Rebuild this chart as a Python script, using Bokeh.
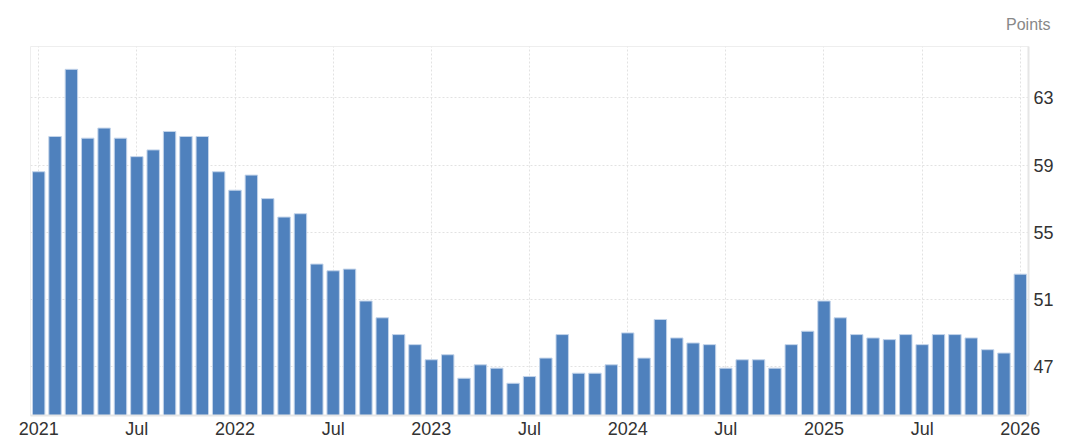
from bokeh.plotting import figure
from bokeh.models import FixedTicker, Range1d, Title, ColumnDataSource
from bokeh.embed import file_html
from bokeh.resources import INLINE

# Monthly values, Jan 2021 .. Jan 2026
months = list(range(61))
values = [
    58.6, 60.7, 64.7, 60.6, 61.2, 60.6, 59.5, 59.9, 61.0, 60.7, 60.7, 58.6,   # 2021
    57.5, 58.4, 57.0, 55.9, 56.1, 53.1, 52.7, 52.8, 50.9, 49.9, 48.9, 48.3,   # 2022
    47.4, 47.7, 46.3, 47.1, 46.9, 46.0, 46.4, 47.5, 48.9, 46.6, 46.6, 47.1,   # 2023
    49.0, 47.5, 49.8, 48.7, 48.4, 48.3, 46.9, 47.4, 47.4, 46.9, 48.3, 49.1,   # 2024
    50.9, 49.9, 48.9, 48.7, 48.6, 48.9, 48.3, 48.9, 48.9, 48.7, 48.0, 47.8,   # 2025
    52.5,                                                                      # 2026
]
x_ticks = [0, 6, 12, 18, 24, 30, 36, 42, 48, 54, 60]
x_tick_labels = ["2021", "Jul", "2022", "Jul", "2023", "Jul", "2024", "Jul", "2025", "Jul", "2026"]
y_ticks = [47, 51, 55, 59, 63]
y_min, y_max = 44.08, 66.06

FONT = "Liberation Sans"

p = figure(frame_width=998, frame_height=369, output_backend="svg", toolbar_location=None,
           y_axis_location="right",
           x_range=Range1d(-0.5, 60.5), y_range=Range1d(y_min, y_max),
           min_border_left=30, min_border_right=38, min_border_top=46, min_border_bottom=30)

src = ColumnDataSource(dict(x=months, top=values))
p.vbar(x="x", top="top", bottom=y_min, width=0.76, source=src,
       fill_color="#4f81bd", line_color="#c3d4ea", line_width=1)

p.xaxis.ticker = FixedTicker(ticks=x_ticks)
p.xaxis.major_label_overrides = {t: l for t, l in zip(x_ticks, x_tick_labels)}
p.yaxis.ticker = FixedTicker(ticks=y_ticks)

for ax in (p.xaxis[0], p.yaxis[0]):
    ax.major_tick_line_color = None
    ax.minor_tick_line_color = None
    ax.axis_line_color = "#e6e6e6"
    ax.axis_line_width = 2
    ax.major_label_text_font = FONT
    ax.major_label_text_font_size = "18px"
    ax.major_label_text_color = "#333333"
p.xaxis.major_label_standoff = -3
p.yaxis.major_label_standoff = -1

p.xgrid.ticker = FixedTicker(ticks=x_ticks)
p.ygrid.ticker = FixedTicker(ticks=y_ticks)
for g in (p.xgrid[0], p.ygrid[0]):
    g.grid_line_color = "#e2e2e2"
    g.grid_line_dash = "2 2"
    g.grid_line_width = 1

p.outline_line_color = "#eeeeee"
p.background_fill_color = "white"
p.border_fill_color = "white"

p.add_layout(Title(text="Points", align="right", offset=-22, standoff=27,
                   text_font=FONT, text_font_size="16px", text_font_style="normal",
                   text_color="#888888"), "above")

open("out.html", "w").write(file_html(p, INLINE))
